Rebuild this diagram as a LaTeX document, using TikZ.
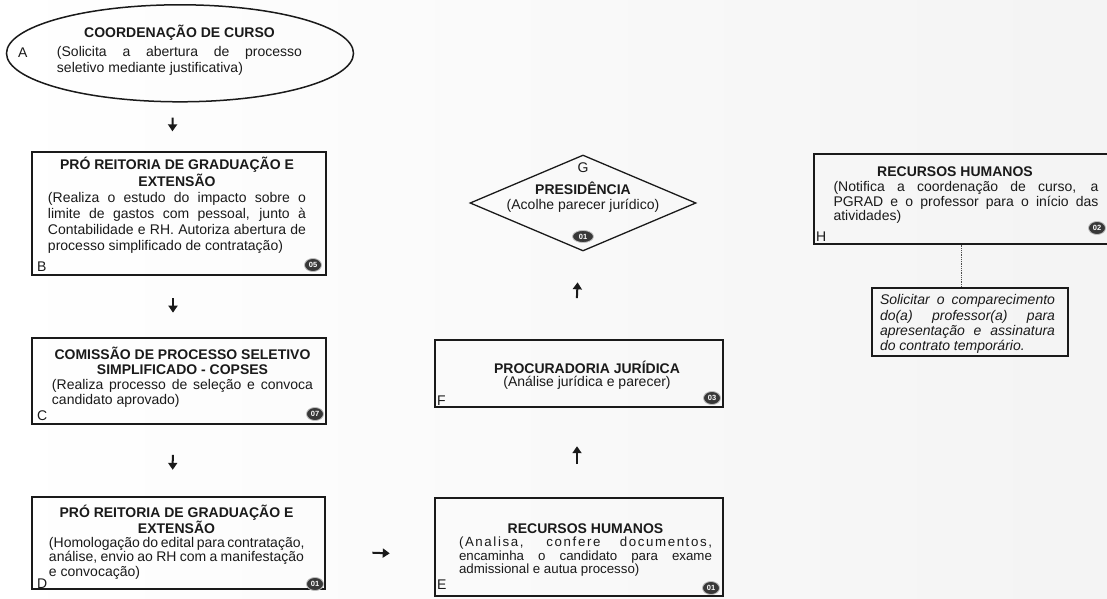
\documentclass[tikz,border=0pt]{standalone}
\usepackage{fontspec}
\setmainfont{Liberation Sans}
\usetikzlibrary{shapes.geometric,arrows.meta,calc}

\definecolor{ink}{HTML}{1A1A1A}
\definecolor{badgefill}{HTML}{383838}

% a full-width justified line
\newcommand\fitline[1]{\makebox[\linewidth][s]{#1}\par}
% font size with a given line spacing
\newcommand\fs[2]{\fontsize{#1bp}{#2bp}\selectfont}

\tikzset{
  box/.style={draw=ink, line width=1.3bp, inner sep=0, rectangle},
  txt/.style={inner sep=0, anchor=base, text=ink},
  tag/.style={inner sep=0, anchor=base west, text=ink, font=\fs{14}{16}},
  badge/.style={ellipse, fill=badgefill, draw=gray!50, line width=.8bp,
    minimum width=17bp, minimum height=13bp, inner sep=0, text=white,
    font=\fs{7.5}{8}\bfseries},
  arr/.style={line width=2bp, draw=ink, -{Triangle[length=7bp,width=9bp]}},
  link/.style={draw=gray!60!black, line width=.8bp, densely dotted},
}

\begin{document}
\begin{tikzpicture}[x=1bp,y=-1bp]
\useasboundingbox (0,0) rectangle (1107,599);
% paper tone, a little greyer to the right
\shade[left color=white, right color=gray!9] (0,0) rectangle (1107,599);

% ---------- A: course coordination ----------
\node[ellipse, draw=ink, line width=1.5bp, minimum width=347bp,
      minimum height=97bp, inner sep=0] (A) at (180,53.3) {};
\node[txt] (At) at (179.5,38) {\parbox[t]{245bp}{\fs{14}{16}%
  {\centering\bfseries COORDENAÇÃO DE CURSO\par}\vspace{3bp}%
  \raggedright
  \fitline{(Solicita a abertura de processo}
  seletivo mediante justificativa)}};
\node[tag] (Al) at (18,58) {A};

% ---------- B ----------
\node[box, minimum width=294bp, minimum height=123bp] (B) at (179,213.5) {};
\node[txt] (Bt) at (177,170) {\parbox[t]{258bp}{\fs{14}{16.2}%
  {\centering\bfseries PRÓ REITORIA DE GRADUAÇÃO E\\EXTENSÃO\par}%
  \raggedright
  \fitline{(Realiza o estudo do impacto sobre o}
  \fitline{limite de gastos com pessoal, junto à}
  \fitline{Contabilidade e RH. Autoriza abertura de}
  processo simplificado de contratação)}};
\node[tag] (Bl) at (37,271.5) {B};
\node[badge] (Bb) at (313,265) {05};

% ---------- C ----------
\node[box, minimum width=294bp, minimum height=86bp] (C) at (179,381) {};
\node[txt] (Ct) at (182.5,359) {\parbox[t]{261bp}{\fs{14}{15.2}%
  {\centering\bfseries COMISSÃO DE PROCESSO SELETIVO\\SIMPLIFICADO - COPSES\par}%
  \raggedright
  \fitline{(Realiza processo de seleção e convoca}
  candidato aprovado)}};
\node[tag] (Cl) at (37,420) {C};
\node[badge] (Cb) at (315,414) {07};

% ---------- D ----------
\node[box, minimum width=293bp, minimum height=92bp] (D) at (178.5,543) {};
\node[txt] (Dt) at (176.5,517) {\parbox[t]{255bp}{\fs{14}{14.3}%
  {\centering\bfseries PRÓ REITORIA DE GRADUAÇÃO E\\EXTENSÃO\par}%
  \raggedright
  \fitline{(Homologação do edital para contratação,}
  \fitline{análise, envio ao RH com a manifestação}
  e convocação)}};
\node[tag] (Dl) at (37,588.5) {D};
\node[badge] (Db) at (315,584) {01};

% ---------- E ----------
\node[box, minimum width=288bp, minimum height=98bp] (E) at (579,547) {};
\node[txt] (Et) at (585.5,533) {\parbox[t]{253bp}{\fs{14}{14}%
  {\centering\bfseries RECURSOS HUMANOS\par}%
  \fs{13.3}{13.5}\raggedright
  \fitline{\addfontfeature{LetterSpace=12}(Analisa, confere documentos,}
  \fitline{encaminha o candidato para exame}
  admissional e autua processo)}};
\node[tag] (El) at (437,589) {E};
\node[badge] (Eb) at (711,588) {01};

% ---------- F ----------
\node[box, minimum width=288bp, minimum height=67bp] (F) at (579,373.5) {};
\node[txt] (Ft) at (587,373) {\parbox[t]{250bp}{\fs{14}{13.7}\centering
  \textbf{PROCURADORIA JURÍDICA}\\(Análise jurídica e parecer)}};
\node[tag] (Fl) at (437,405) {F};
\node[badge] (Fb) at (712,398) {03};

% ---------- G ----------
\node[diamond, draw=ink, line width=1.3bp, minimum width=226bp,
      minimum height=96bp, inner sep=0] (G) at (583,203) {};
\node[txt] (Gt) at (583,173) {\parbox[t]{200bp}{\fs{14}{15.5}\centering
  G\\[6bp]\textbf{PRESIDÊNCIA}\\(Acolhe parecer jurídico)}};
\node[badge, minimum width=21bp, minimum height=12bp] (Gb) at (583,236.5) {01};

% ---------- H ----------
\node[box, minimum width=294bp, minimum height=90bp] (H) at (961,199) {};
\node[txt] (Ht) at (966,177) {\parbox[t]{265bp}{\fs{14}{14.6}%
  {\centering\bfseries\hspace*{-22bp}RECURSOS HUMANOS\par}%
  \raggedright
  \fitline{(Notifica a coordenação de curso, a}
  \fitline{PGRAD e o professor para o início das}
  atividades)}};
\node[tag] (Hl) at (816,241.5) {H};
\node[badge] (Hb) at (1097,228) {02};

% ---------- note under H ----------
\node[box, minimum width=196bp, minimum height=68bp] (N) at (970,322) {};
\node[txt] (Nt) at (967.5,305) {\parbox[t]{175bp}{\fs{14}{15.3}\itshape
  \raggedright
  \fitline{Solicitar o comparecimento}
  \fitline{do(a) professor(a) para}
  \fitline{apresentação e assinatura}
  do contrato temporário.}};

% ---------- connectors ----------
\draw[arr] ($(A.south)!.31!(B.north)+(-7,0)$) -- ($(A.south)!.59!(B.north)+(-7,0)$);
\draw[arr] ($(B.south)!.365!(C.north)+(-6,0)$) -- ($(B.south)!.6!(C.north)+(-6,0)$);
\draw[arr] ($(C.south)!.42!(D.north)+(-6,0)$) -- ($(C.south)!.63!(D.north)+(-6,0)$);
\draw[arr] ($(D.east)!.43!(E.west)+(0,8)$) -- ($(D.east)!.59!(E.west)+(0,8)$);
\draw[arr] ($(E.north)!.37!(F.south)+(-2,0)$) -- ($(E.north)!.57!(F.south)+(-2,0)$);
\draw[arr] ($(F.north)!.47!(G.south)+(-4,0)$) -- ($(F.north)!.65!(G.south)+(-4,0)$);
\draw[link] (H.south) -- (H.south |- N.north);
\end{tikzpicture}
\end{document}
